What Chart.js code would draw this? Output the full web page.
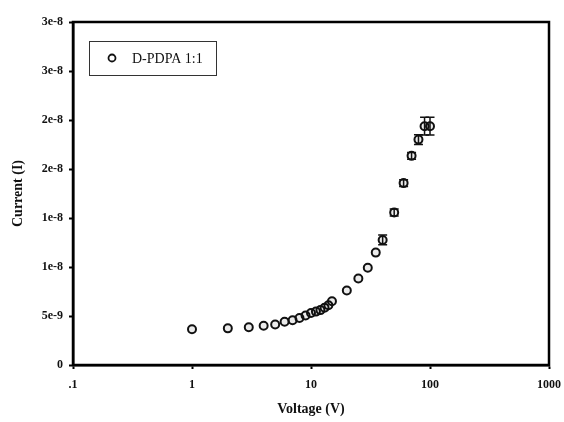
<!DOCTYPE html>
<html>
<head>
<meta charset="utf-8">
<title>D-PDPA 1:1 I-V</title>
<script src="https://cdn.jsdelivr.net/npm/chart.js@4/dist/chart.umd.min.js"></script>
<style>
    html, body { margin: 0; padding: 0; background: #fff; }
    #iv-chart { display: block; }
</style>
</head>
<body>
<canvas id="iv-chart" width="564" height="422"></canvas>
<script>
/* ===== Current vs. voltage, D-PDPA 1:1 ===== */

var seriesLabel = "D-PDPA 1:1";

// applied voltage (V)
var voltage = [1, 2, 3, 4, 5, 6, 7, 8, 9, 10, 11, 12, 13, 14, 15, 20, 25, 30, 35, 40, 50, 60, 70, 80, 90, 100];

// measured current (A)
var current = [3.65e-9, 3.74e-9, 3.85e-9, 4.0e-9, 4.14e-9, 4.42e-9, 4.57e-9, 4.8e-9, 5.05e-9, 5.3e-9,
    5.45e-9, 5.6e-9, 5.85e-9, 6.1e-9, 6.5e-9, 7.6e-9, 8.82e-9, 9.92e-9, 1.147e-8, 1.276e-8,
    1.556e-8, 1.856e-8, 2.134e-8, 2.3e-8, 2.437e-8, 2.437e-8];

// +/- error on each current reading (A)
var currentErr = [0, 0, 0, 0, 0, 0, 0, 0, 0, 0,
    0, 0, 0, 0, 0, 0, 0, 0, 0, 5e-10,
    3.5e-10, 3.5e-10, 3.5e-10, 5e-10, 9e-10, 9e-10];

var xTicks = [0.1, 1, 10, 100, 1000];
var xTickLabels = [".1", "1", "10", "100", "1000"];

var yTicks = [0, 5e-9, 1e-8, 1.5e-8, 2e-8, 2.5e-8, 3e-8, 3.5e-8];
var yTickLabels = ["0", "5e-9", "1e-8", "1e-8", "2e-8", "2e-8", "3e-8", "3e-8"];

var serif = "'Liberation Serif', 'Times New Roman', serif";
var ink = "#111";

/* --- Error bars drawn through the chart's scales --- */
var errorBars = {
    id: "errorBars",
    afterDatasetsDraw: function (chart) {
        var ctx = chart.ctx;
        var xs = chart.scales.x;
        var ys = chart.scales.y;
        ctx.save();
        ctx.strokeStyle = ink;
        ctx.lineWidth = 1.5;
        for (var i = 0; i < voltage.length; i++) {
            if (!currentErr[i]) continue;
            var px = xs.getPixelForValue(voltage[i]);
            var top = ys.getPixelForValue(current[i] + currentErr[i]);
            var bot = ys.getPixelForValue(current[i] - currentErr[i]);
            ctx.beginPath();
            ctx.moveTo(px, top); ctx.lineTo(px, bot);
            ctx.moveTo(px - 4.5, top); ctx.lineTo(px + 4.5, top);
            ctx.moveTo(px - 4.5, bot); ctx.lineTo(px + 4.5, bot);
            ctx.stroke();
        }
        ctx.restore();
    }
};

/* --- Closed frame round the plot and the boxed legend --- */
var frameAndLegend = {
    id: "frameAndLegend",
    afterDraw: function (chart) {
        var ctx = chart.ctx;
        var a = chart.chartArea;
        ctx.save();
        ctx.strokeStyle = "#000";
        ctx.lineWidth = 2.5;
        ctx.strokeRect(a.left, a.top, a.right - a.left, a.bottom - a.top);

        // legend box
        var bx = a.left + 16, by = a.top + 19, bw = 127, bh = 34;
        ctx.lineWidth = 1;
        ctx.strokeStyle = "#333";
        ctx.strokeRect(bx + 0.5, by + 0.5, bw, bh);

        ctx.lineWidth = 1.8;
        ctx.strokeStyle = ink;
        ctx.beginPath();
        ctx.arc(bx + 23, by + 17, 3.5, 0, Math.PI * 2);
        ctx.stroke();

        ctx.fillStyle = ink;
        ctx.font = "14px " + serif;
        ctx.textBaseline = "middle";
        ctx.fillText(chart.data.datasets[0].label, bx + 43, by + 18);
        ctx.restore();
    }
};

var points = voltage.map(function (v, i) { return { x: v, y: current[i] }; });

new Chart(document.getElementById("iv-chart"), {
    type: "scatter",
    data: {
        datasets: [{
            label: seriesLabel,
            data: points,
            pointStyle: "circle",
            pointRadius: 4,
            pointBorderWidth: 2,
            borderColor: "#111",
            backgroundColor: "rgba(0,0,0,0.08)"
        }]
    },
    options: {
        responsive: false,
        animation: false,
        layout: { padding: { top: 22, right: 15, left: 0, bottom: 0 } },
        plugins: {
            legend: { display: false },
            tooltip: { enabled: false }
        },
        scales: {
            x: {
                type: "logarithmic",
                min: 0.1,
                max: 1000,
                afterBuildTicks: function (scale) {
                    scale.ticks = xTicks.map(function (v) { return { value: v }; });
                },
                afterFit: function (scale) {
                    // keep the end labels from squeezing the plot width
                    scale.height = 57;
                    scale.paddingLeft = 0;
                    scale.paddingRight = 0;
                },
                ticks: {
                    color: ink,
                    padding: 9,
                    maxRotation: 0,
                    font: { family: serif, size: 12, weight: "bold" },
                    callback: function (val, idx) { return xTickLabels[idx]; }
                },
                grid: { drawOnChartArea: false, tickLength: 4, tickWidth: 2, tickColor: "#000" },
                border: { display: true, color: "#000", width: 2.5 },
                title: {
                    display: true,
                    text: "Voltage (V)",
                    color: ink,
                    padding: { top: 0, bottom: 4 },
                    font: { family: serif, size: 14, weight: "bold" }
                }
            },
            y: {
                min: 0,
                max: 3.5e-8,
                afterBuildTicks: function (scale) {
                    scale.ticks = yTicks.map(function (v) { return { value: v }; });
                },
                afterFit: function (scale) {
                    scale.width = 73;
                    scale.paddingTop = 0;
                    scale.paddingBottom = 0;
                },
                ticks: {
                    color: ink,
                    padding: 6,
                    font: { family: serif, size: 12, weight: "bold" },
                    callback: function (val, idx) { return yTickLabels[idx]; }
                },
                grid: { drawOnChartArea: false, tickLength: 4, tickWidth: 2, tickColor: "#000" },
                border: { display: true, color: "#000", width: 2.5 },
                title: {
                    display: true,
                    text: "Current (I)",
                    color: ink,
                    padding: { top: 10, bottom: 0 },
                    font: { family: serif, size: 14, weight: "bold" }
                }
            }
        }
    },
    plugins: [errorBars, frameAndLegend]
});
</script>
</body>
</html>
